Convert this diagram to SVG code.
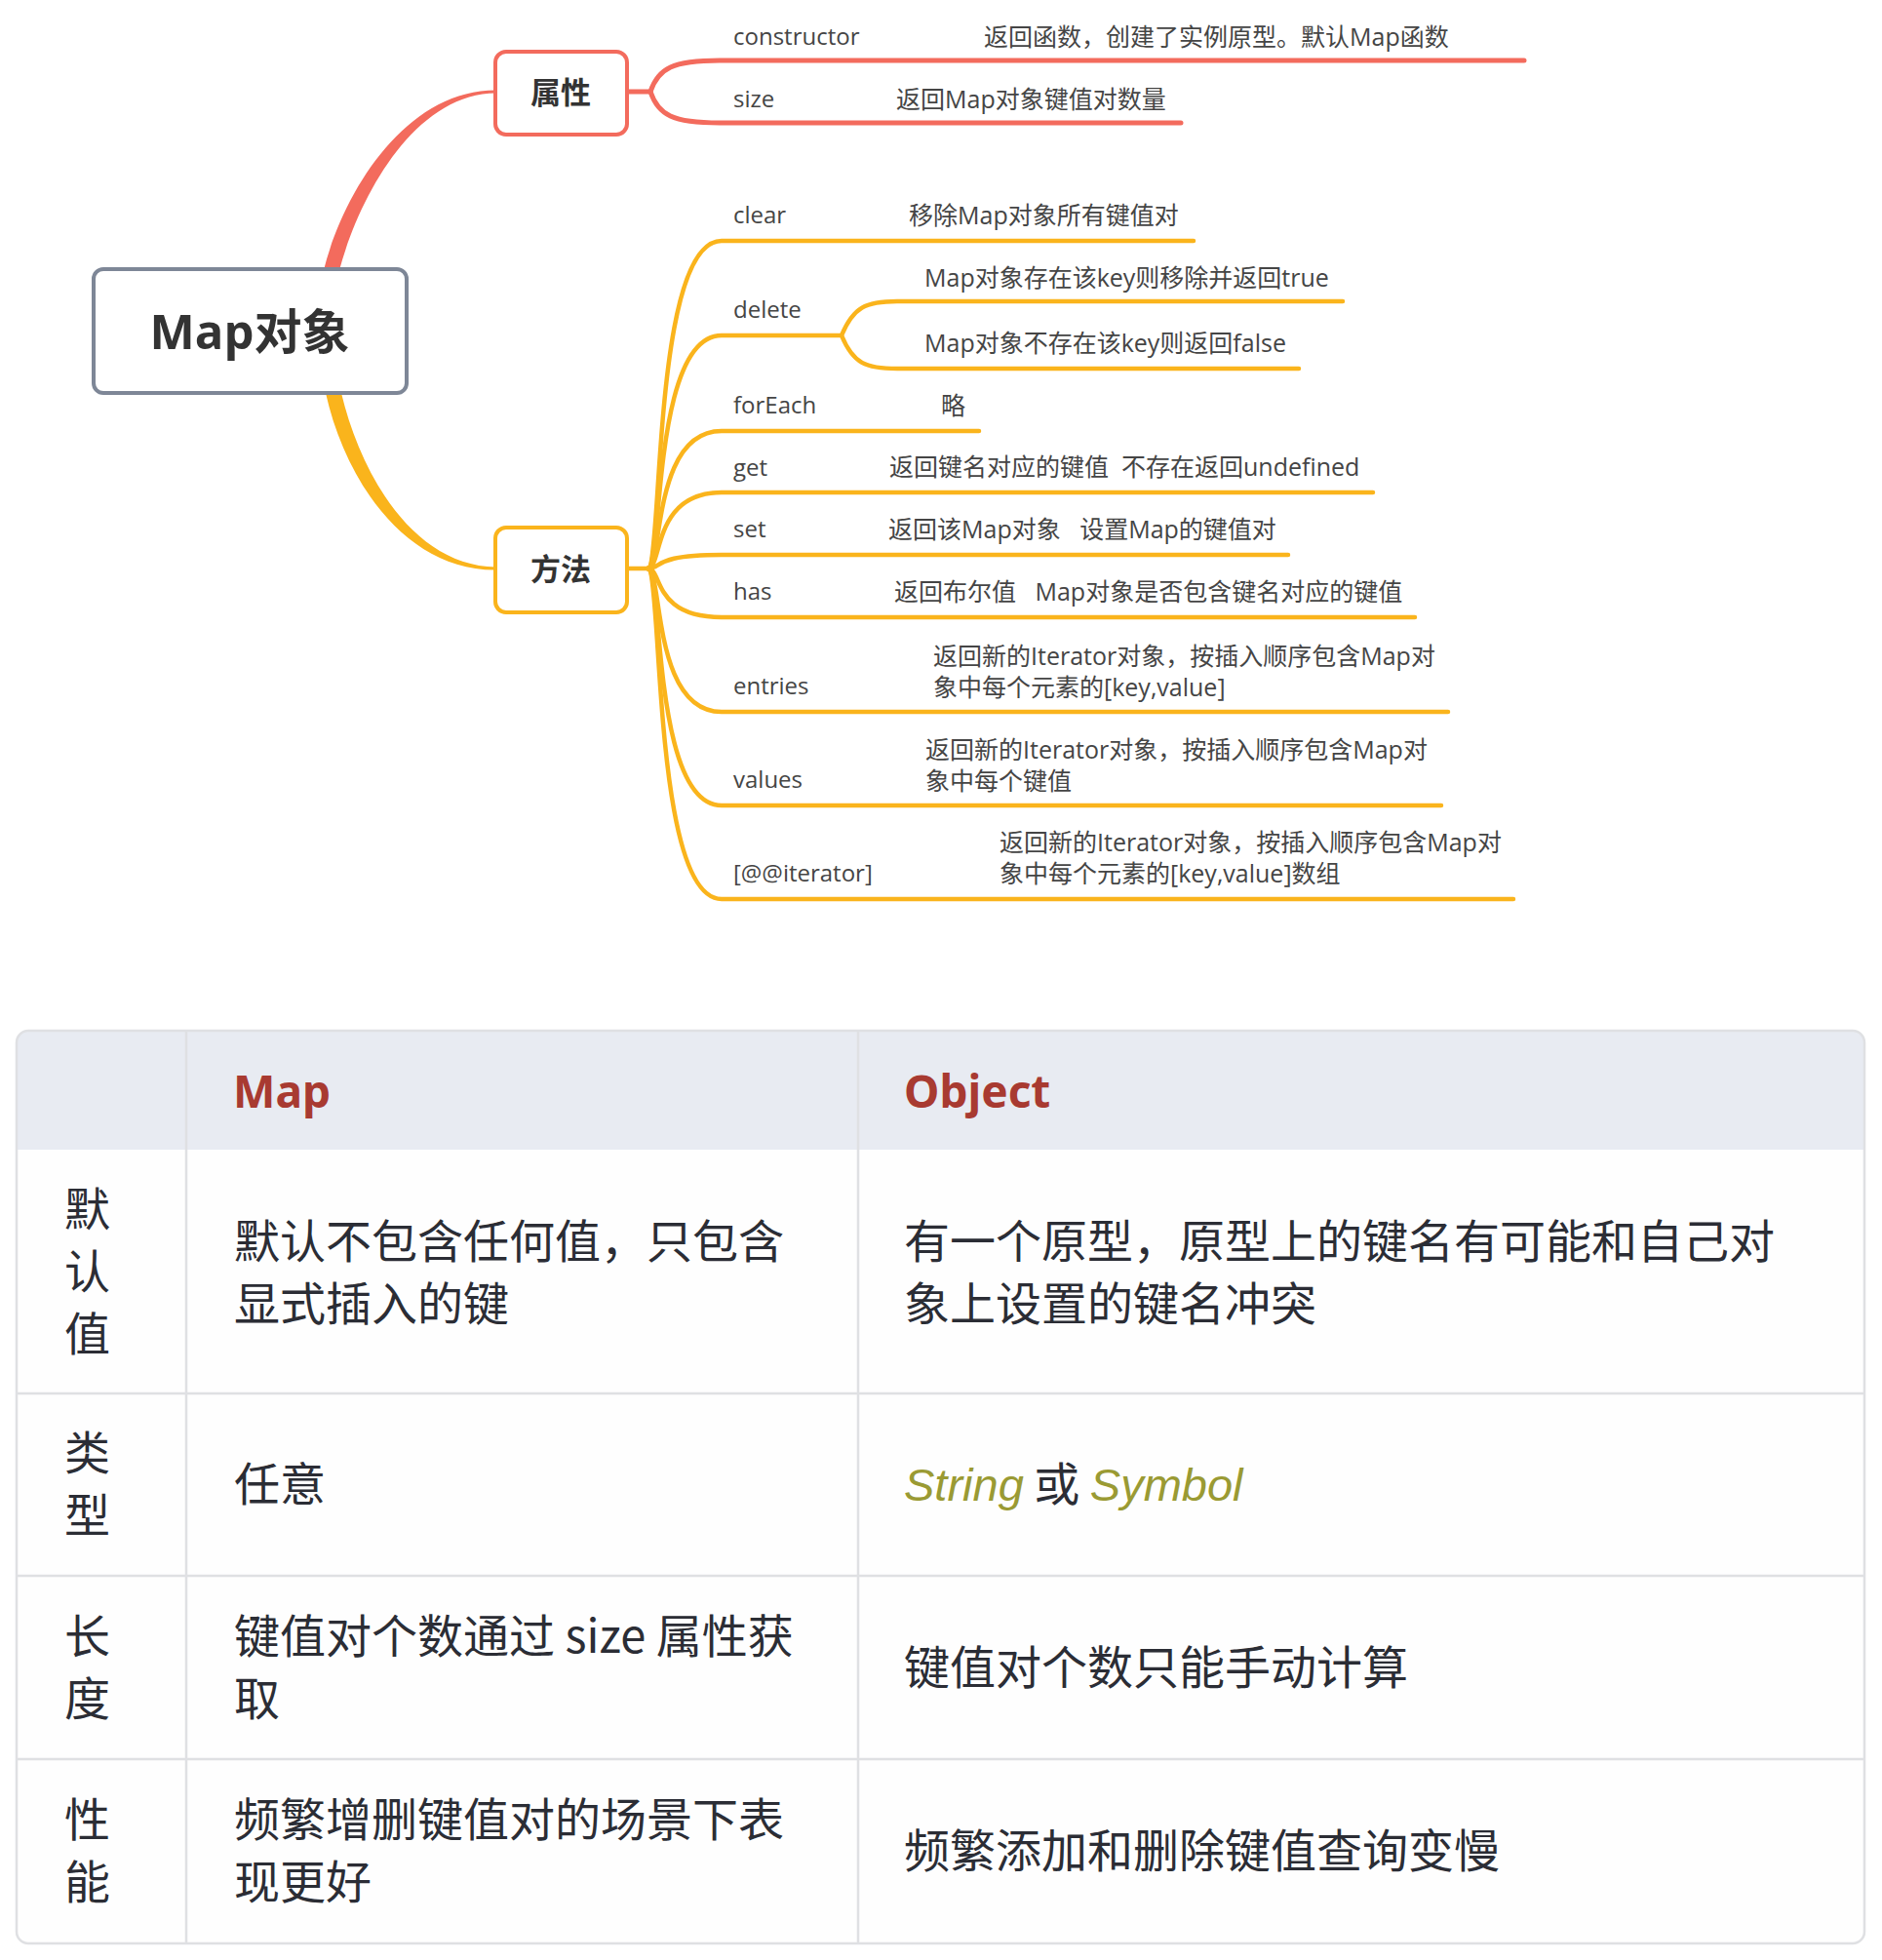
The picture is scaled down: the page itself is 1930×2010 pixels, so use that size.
<svg xmlns="http://www.w3.org/2000/svg" width="1930" height="2010" viewBox="0 0 1930 2010">
  <style>
    .red { fill: none; stroke: #f36b5d; stroke-width: 5; stroke-linecap: round; }
    .org { fill: none; stroke: #fab41c; stroke-width: 4.5; stroke-linecap: round; }
    .lbl { font-family: "Open Sans", "Noto Sans CJK SC", sans-serif; font-size: 24px; fill: #454545; }
    .dsc { font-family: "Open Sans", "Noto Sans CJK SC", sans-serif; font-size: 25px; fill: #454545; }
    .topic { font-family: "Open Sans", "Noto Sans CJK SC", sans-serif; font-weight: bold; fill: #333333; text-anchor: middle; }
    .cell { font-family: "Noto Sans CJK SC", sans-serif; font-size: 47px; fill: #2b2d35; }
    .head { font-family: "Noto Sans", "Liberation Sans", sans-serif; font-size: 46px; font-weight: bold; fill: #a83a31; }
    .code { font-family: "Liberation Sans", sans-serif; font-style: italic; fill: #9a9a33; }
    .grid { stroke: #dfe0e3; stroke-width: 2.5; fill: none; }
  </style>
  <rect width="1930" height="2010" fill="#ffffff"/>

  <!-- connectors -->
  <g id="connectors">
    <path id="c-root-attr" d="M 332 277 C 352 197, 416 92, 509 92.5 L 509 95.5 C 424 96, 368 203, 348 277 Z" fill="#f36b5d"/>
    <path id="c-root-method" d="M 334 403 C 354 493, 416 585.5, 509 584.5 L 509 581.5 C 424 580.5, 370 487, 350 403 Z" fill="#fab41c"/>
    <!-- attribute branches -->
    <path class="red" d="M 643 94 L 667 94"/>
    <path class="red" d="M 667 94 C 675 70, 690 62, 738 62 L 1563 62"/>
    <path class="red" d="M 667 94 C 675 118, 690 126, 738 126 L 1211 126"/>
    <!-- method branches -->
    <path class="org" d="M 643 583 L 664 583"/>
    <path class="org" d="M 664 583 C 680 583, 668 247, 740 247 L 1224 247"/>
    <path class="org" d="M 664 583 C 680 583, 668 344, 740 344 L 863 344"/>
    <path class="org" d="M 863 344 C 875 315, 888 309, 920 309 L 1377 309"/>
    <path class="org" d="M 863 344 C 875 373, 888 378, 920 378 L 1332 378"/>
    <path class="org" d="M 664 583 C 680 583, 668 442, 740 442 L 1004 442"/>
    <path class="org" d="M 664 583 C 680 583, 668 505, 740 505 L 1408 505"/>
    <path class="org" d="M 664 583 C 680 583, 668 569, 740 569 L 1321 569"/>
    <path class="org" d="M 664 583 C 680 583, 668 633, 740 633 L 1451 633"/>
    <path class="org" d="M 664 583 C 680 583, 668 730, 740 730 L 1485 730"/>
    <path class="org" d="M 664 583 C 680 583, 668 826, 740 826 L 1478 826"/>
    <path class="org" d="M 664 583 C 680 583, 668 922, 740 922 L 1552 922"/>
  </g>

  <!-- central topic -->
  <g id="node-root">
    <rect x="96" y="276" width="321" height="127" rx="10" fill="#ffffff" stroke="#7e8797" stroke-width="4"/>
    <text class="topic" x="256" y="358" font-size="49">Map对象</text>
  </g>
  <g id="node-attr">
    <rect x="508" y="53" width="135" height="85" rx="11" fill="#ffffff" stroke="#f36b5d" stroke-width="4"/>
    <text class="topic" x="575" y="106" font-size="31">属性</text>
  </g>
  <g id="node-method">
    <rect x="508" y="541" width="135" height="87" rx="11" fill="#ffffff" stroke="#fab41c" stroke-width="4"/>
    <text class="topic" x="575" y="595" font-size="31">方法</text>
  </g>

  <!-- attribute leaves -->
  <g id="node-constructor">
    <text class="lbl" x="752" y="46">constructor</text>
    <text class="dsc" x="1009" y="47">返回函数，创建了实例原型。默认Map函数</text>
  </g>
  <g id="node-size">
    <text class="lbl" x="752" y="110">size</text>
    <text class="dsc" x="919" y="111">返回Map对象键值对数量</text>
  </g>

  <!-- method leaves -->
  <g id="node-clear">
    <text class="lbl" x="752" y="229">clear</text>
    <text class="dsc" x="932" y="230">移除Map对象所有键值对</text>
  </g>
  <g id="node-delete">
    <text class="lbl" x="752" y="326">delete</text>
  </g>
  <g id="node-delete-true">
    <text class="dsc" x="948" y="294">Map对象存在该key则移除并返回true</text>
  </g>
  <g id="node-delete-false">
    <text class="dsc" x="948" y="361">Map对象不存在该key则返回false</text>
  </g>
  <g id="node-forEach">
    <text class="lbl" x="752" y="424">forEach</text>
    <text class="dsc" x="965" y="425">略</text>
  </g>
  <g id="node-get">
    <text class="lbl" x="752" y="488">get</text>
    <text class="dsc" x="912" y="488" xml:space="preserve">返回键名对应的键值  不存在返回undefined</text>
  </g>
  <g id="node-set">
    <text class="lbl" x="752" y="551">set</text>
    <text class="dsc" x="911" y="552" xml:space="preserve">返回该Map对象   设置Map的键值对</text>
  </g>
  <g id="node-has">
    <text class="lbl" x="752" y="615">has</text>
    <text class="dsc" x="917" y="616" xml:space="preserve">返回布尔值   Map对象是否包含键名对应的键值</text>
  </g>
  <g id="node-entries">
    <text class="lbl" x="752" y="712">entries</text>
    <text class="dsc" x="957" y="682">返回新的Iterator对象，按插入顺序包含Map对</text>
    <text class="dsc" x="957" y="714">象中每个元素的[key,value]</text>
  </g>
  <g id="node-values">
    <text class="lbl" x="752" y="808">values</text>
    <text class="dsc" x="949" y="778">返回新的Iterator对象，按插入顺序包含Map对</text>
    <text class="dsc" x="949" y="810">象中每个键值</text>
  </g>
  <g id="node-iterator">
    <text class="lbl" x="752" y="904">[@@iterator]</text>
    <text class="dsc" x="1025" y="873">返回新的Iterator对象，按插入顺序包含Map对</text>
    <text class="dsc" x="1025" y="905">象中每个元素的[key,value]数组</text>
  </g>

  <!-- comparison table -->
  <g id="table">
    <rect x="17" y="1057" width="1895" height="936" rx="12" fill="#fefefe"/>
    <path d="M 17 1179 L 17 1069 Q 17 1057 29 1057 L 1900 1057 Q 1912 1057 1912 1069 L 1912 1179 Z" fill="#e8ebf2"/>
    <line class="grid" x1="191" y1="1057" x2="191" y2="1993"/>
    <line class="grid" x1="880" y1="1057" x2="880" y2="1993"/>
    <line class="grid" x1="17" y1="1429" x2="1912" y2="1429"/>
    <line class="grid" x1="17" y1="1616" x2="1912" y2="1616"/>
    <line class="grid" x1="17" y1="1804" x2="1912" y2="1804"/>
    <rect class="grid" x="17" y="1057" width="1895" height="936" rx="12"/>

    <g id="hdr-map"><text class="head" x="239" y="1136">Map</text></g>
    <g id="hdr-object"><text class="head" x="927" y="1136">Object</text></g>

    <g id="row-default">
      <text class="cell" x="66" y="1257">默</text>
      <text class="cell" x="66" y="1321">认</text>
      <text class="cell" x="66" y="1385">值</text>
      <text class="cell" x="240" y="1290">默认不包含任何值，只包含</text>
      <text class="cell" x="240" y="1354">显式插入的键</text>
      <text class="cell" x="927" y="1290">有一个原型，原型上的键名有可能和自己对</text>
      <text class="cell" x="927" y="1354">象上设置的键名冲突</text>
    </g>
    <g id="row-type">
      <text class="cell" x="66" y="1507">类</text>
      <text class="cell" x="66" y="1571">型</text>
      <text class="cell" x="240" y="1539">任意</text>
      <text class="cell" x="927" y="1539"><tspan class="code">String</tspan> 或 <tspan class="code">Symbol</tspan></text>
    </g>
    <g id="row-length">
      <text class="cell" x="66" y="1695">长</text>
      <text class="cell" x="66" y="1759">度</text>
      <text class="cell" x="240" y="1695">键值对个数通过 size 属性获</text>
      <text class="cell" x="240" y="1759">取</text>
      <text class="cell" x="927" y="1727">键值对个数只能手动计算</text>
    </g>
    <g id="row-perf">
      <text class="cell" x="66" y="1883">性</text>
      <text class="cell" x="66" y="1947">能</text>
      <text class="cell" x="240" y="1883">频繁增删键值对的场景下表</text>
      <text class="cell" x="240" y="1947">现更好</text>
      <text class="cell" x="927" y="1915">频繁添加和删除键值查询变慢</text>
    </g>
  </g>
</svg>
